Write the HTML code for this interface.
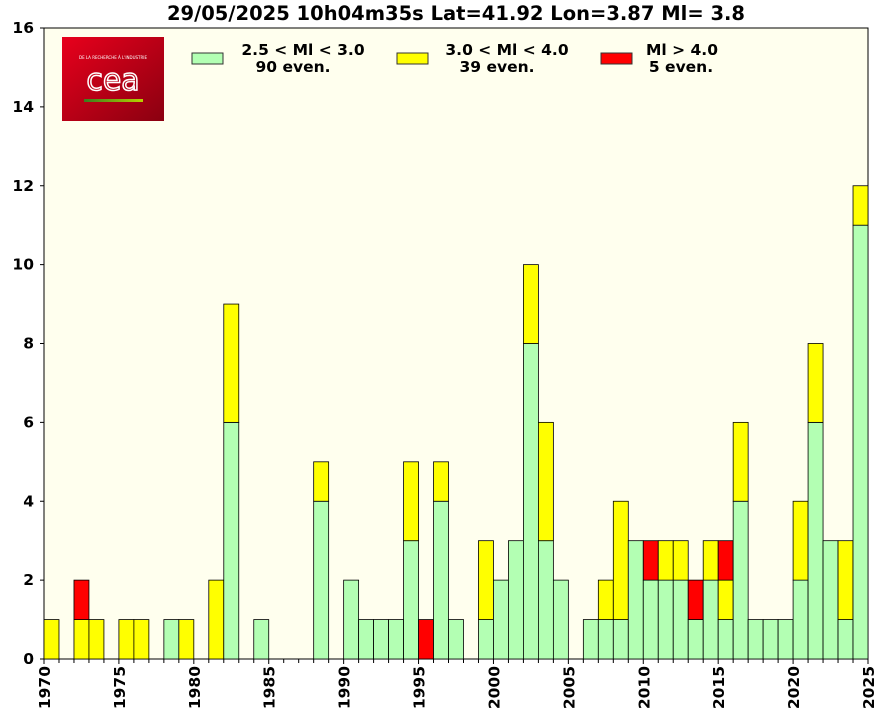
<!DOCTYPE html>
<html><head><meta charset="utf-8"><style>
body{margin:0;background:#fff;}
svg{display:block;font-family:"DejaVu Sans","Liberation Sans",sans-serif;font-weight:bold;}
</style></head><body>
<svg id="s" width="874" height="716" xmlns="http://www.w3.org/2000/svg">
<defs><linearGradient id="g" x1="0" y1="0" x2="1" y2="1"><stop offset="0" stop-color="#e8001c"/><stop offset="1" stop-color="#8a0010"/></linearGradient>
<linearGradient id="l" x1="0" x2="1"><stop offset="0" stop-color="#3a7d1e"/><stop offset="1" stop-color="#b8d000"/></linearGradient></defs>
<rect x="44" y="28" width="824" height="631" fill="#ffffee" stroke="#000" stroke-width="1"/>
<text x="456" y="20" font-size="19.5" text-anchor="middle">29/05/2025 10h04m35s Lat=41.92 Lon=3.87 Ml= 3.8</text>
<g id="bars"></g>
<rect x="62" y="37" width="102" height="84" fill="url(#g)"/>
<text x="113" y="59" font-size="4" fill="#fff" text-anchor="middle" font-weight="normal">DE LA RECHERCHE À L'INDUSTRIE</text>
<text x="113" y="90" font-size="30" fill="none" stroke="#fff" stroke-width="1.5" text-anchor="middle" font-weight="normal" font-family="DejaVu Sans">cea</text>
<rect x="84" y="99" width="59" height="3" fill="url(#l)"/>
<rect x="192" y="53" width="31" height="11" fill="#b3ffb3" stroke="#333"/>
<text x="303" y="55" font-size="15.5" text-anchor="middle">2.5 &lt; Ml &lt;  3.0</text>
<text x="293" y="72" font-size="15.5" text-anchor="middle">90 even.</text>
<rect x="397" y="53" width="31" height="11" fill="#ffff00" stroke="#333"/>
<text x="507" y="55" font-size="15.5" text-anchor="middle">3.0 &lt; Ml &lt;  4.0</text>
<text x="497" y="72" font-size="15.5" text-anchor="middle">39 even.</text>
<rect x="601" y="53" width="31" height="11" fill="#ff0000" stroke="#333"/>
<text x="682" y="55" font-size="15.5" text-anchor="middle">Ml &gt;  4.0</text>
<text x="681" y="72" font-size="15.5" text-anchor="middle">5 even.</text>
</svg>
<script>
var d={1970:[0,1,0],1972:[0,1,1],1973:[0,1,0],1975:[0,1,0],1976:[0,1,0],1978:[1,0,0],1979:[0,1,0],1981:[0,2,0],1982:[6,3,0],1984:[1,0,0],1988:[4,1,0],1990:[2,0,0],1991:[1,0,0],1992:[1,0,0],1993:[1,0,0],1994:[3,2,0],1995:[0,0,1],1996:[4,1,0],1997:[1,0,0],1999:[1,2,0],2000:[2,0,0],2001:[3,0,0],2002:[8,2,0],2003:[3,3,0],2004:[2,0,0],2006:[1,0,0],2007:[1,1,0],2008:[1,3,0],2009:[3,0,0],2010:[2,0,1],2011:[2,1,0],2012:[2,1,0],2013:[1,0,1],2014:[2,1,0],2015:[1,1,1],2016:[4,2,0],2017:[1,0,0],2018:[1,0,0],2019:[1,0,0],2020:[2,2,0],2021:[6,2,0],2022:[3,0,0],2023:[1,2,0],2024:[11,1,0]};
var s=document.getElementById('s'),b=document.getElementById('bars'),h='';
var X=function(y){return 44+(y-1970)*824/55},Y=function(v){return 659-v*631/16};
var c=['#b3ffb3','#ffff00','#ff0000'];
for(var y in d){var v=0;for(var i=0;i<3;i++){if(d[y][i]){h+='<rect x="'+X(+y)+'" y="'+Y(v+d[y][i])+'" width="'+(824/55)+'" height="'+(d[y][i]*631/16)+'" fill="'+c[i]+'" stroke="#000" stroke-width="0.8"/>';v+=d[y][i];}}}
for(var y=1970;y<=2025;y++){var x=X(y);h+='<line x1="'+x+'" x2="'+x+'" y1="659" y2="'+(y%5?663:664)+'" stroke="#000"/>';if(y%5==0)h+='<text transform="translate('+(x+6)+',666) rotate(-90)" font-size="15.5" text-anchor="end">'+y+'</text>';}
for(var v=0;v<=16;v+=2){var yy=Y(v);h+='<line x1="40" x2="44" y1="'+yy+'" y2="'+yy+'" stroke="#000"/><text x="34" y="'+(yy+5)+'" font-size="15.5" text-anchor="end">'+v+'</text>';}
b.innerHTML=h;
</script>
</body></html>
